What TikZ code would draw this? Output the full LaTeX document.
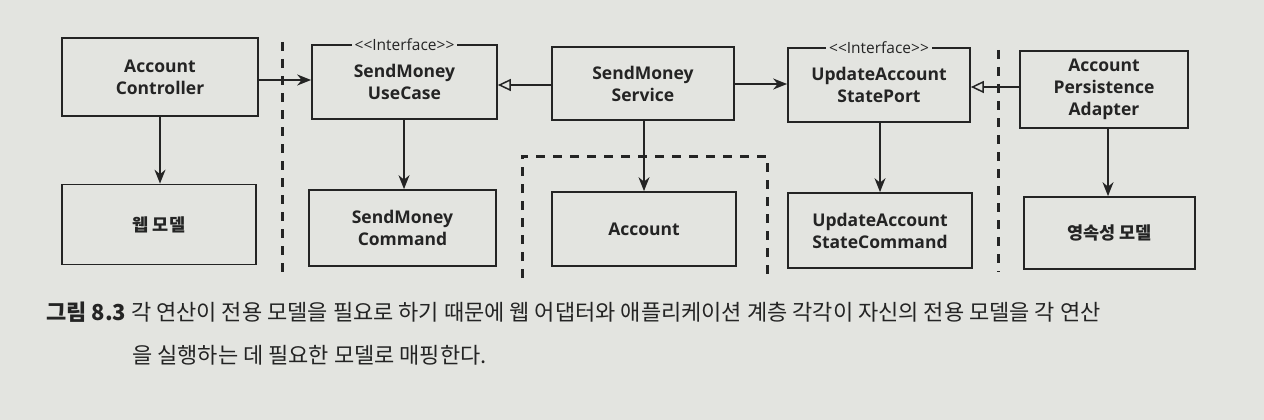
\documentclass[tikz,border=0pt]{standalone}
\usepackage{fontspec}
\setmainfont{Open Sans}
\newfontfamily\kr{Noto Sans CJK KR}
\usetikzlibrary{arrows.meta}
\definecolor{paper}{RGB}{227,228,224}
\definecolor{ink}{RGB}{36,36,36}
\tikzset{
  box/.style={draw=ink, line width=1.7pt, minimum width=#1, inner sep=0pt, align=center, font=\fontsize{17.5}{22}\selectfont\bfseries, text=ink},
  box/.default=186pt,
  dep/.style={draw=ink, line width=1.7pt, -{Stealth[length=14pt,width=11pt]}},
  impl/.style={draw=ink, line width=1.7pt, -{Triangle[open,length=13pt,width=12pt,line width=1.5pt]}},
  border/.style={draw=ink, line width=3pt, dash pattern=on 9pt off 8pt},
  stereo/.style={fill=paper, inner xsep=3pt, inner ysep=0pt, font=\fontsize{15.5}{16}\selectfont, text=ink}
}
\begin{document}
\begin{tikzpicture}[x=1pt,y=-1pt]
\fill[paper] (0,0) rectangle (1264,420);
\useasboundingbox (0,0) rectangle (1264,420);

% top row
\node[box=196pt, minimum height=78pt] (ac) at (160,77) {Account\\Controller};
\node[box=185pt, minimum height=74pt] (uc) at (404.5,82) {SendMoney\\UseCase};
\node[box=182pt, minimum height=73pt] (svc) at (643,83.5) {SendMoney\\Service};
\node[box=182pt, minimum height=74pt] (port) at (879,85) {UpdateAccount\\StatePort};
\node[box=168pt, minimum height=77pt] (ad) at (1104,89.5) {Account\\Persistence\\Adapter};

% bottom row
\node[box=194pt, minimum height=80pt] (web) at (159,224.5) {\kr\bfseries 웹 모델};
\node[box=187pt, minimum height=76pt] (cmd) at (402.5,228) {SendMoney\\Command};
\node[box=184pt, minimum height=74pt] (acc) at (644,229) {Account};
\node[box=184pt, minimum height=75pt] (pcmd) at (880,230.5) {UpdateAccount\\StateCommand};
\node[box=171pt, minimum height=72pt] (per) at (1109.5,233) {\kr\bfseries 영속성 모델};

% stereotypes
\node[stereo] (s1) at (uc.north) {{<}{<}Interface{>}{>}};
\node[stereo] (s2) at (port.north) {{<}{<}Interface{>}{>}};

% boundaries
\coordinate (b1t) at (282,42);
\coordinate (b1b) at (282,272);
\coordinate (b2t) at (998,50);
\coordinate (b2b) at (998,272);
\draw[border] (b1t) -- (b1b);
\draw[border] (b2t) -- (b2b);
\coordinate (r1) at (522,278);
\coordinate (r2) at (522,156);
\coordinate (r3) at (767,156);
\coordinate (r4) at (767,278);
\draw[border] (r1) -- (r2) -- (r3) -- (r4);

% connectors
\draw[dep] (ac.east |- 0,80) -- (uc.west |- 0,80);
\draw[dep] (ac.south) -- (web.north -| ac.south);
\draw[dep] (uc.south -| 404,0) -- (cmd.north -| 404,0);
\draw[impl] (svc.west |- 0,85) -- (uc.east |- 0,85);
\draw[dep] (svc.south -| 644,0) -- (acc.north -| 644,0);
\draw[dep] (svc.east |- 0,84) -- (port.west |- 0,84);
\draw[dep] (port.south -| 880,0) -- (pcmd.north -| 880,0);
\draw[impl] (ad.west |- 0,87) -- (port.east |- 0,87);
\draw[dep] (ad.south -| 1108,0) -- (per.north -| 1108,0);

% caption
\node[anchor=base west, inner sep=0pt, text=ink, font=\kr\fontsize{22}{26}\selectfont] (cap1) at (46,320)
  {{\bfseries 그림 8.3} 각 연산이 전용 모델을 필요로 하기 때문에 웹 어댑터와 애플리케이션 계층 각각이 자신의 전용 모델을 각 연산};
\node[anchor=base west, inner sep=0pt, text=ink, font=\kr\fontsize{22}{26}\selectfont] (cap2) at (132,363)
  {을 실행하는 데 필요한 모델로 매핑한다.};
\end{tikzpicture}
\end{document}
